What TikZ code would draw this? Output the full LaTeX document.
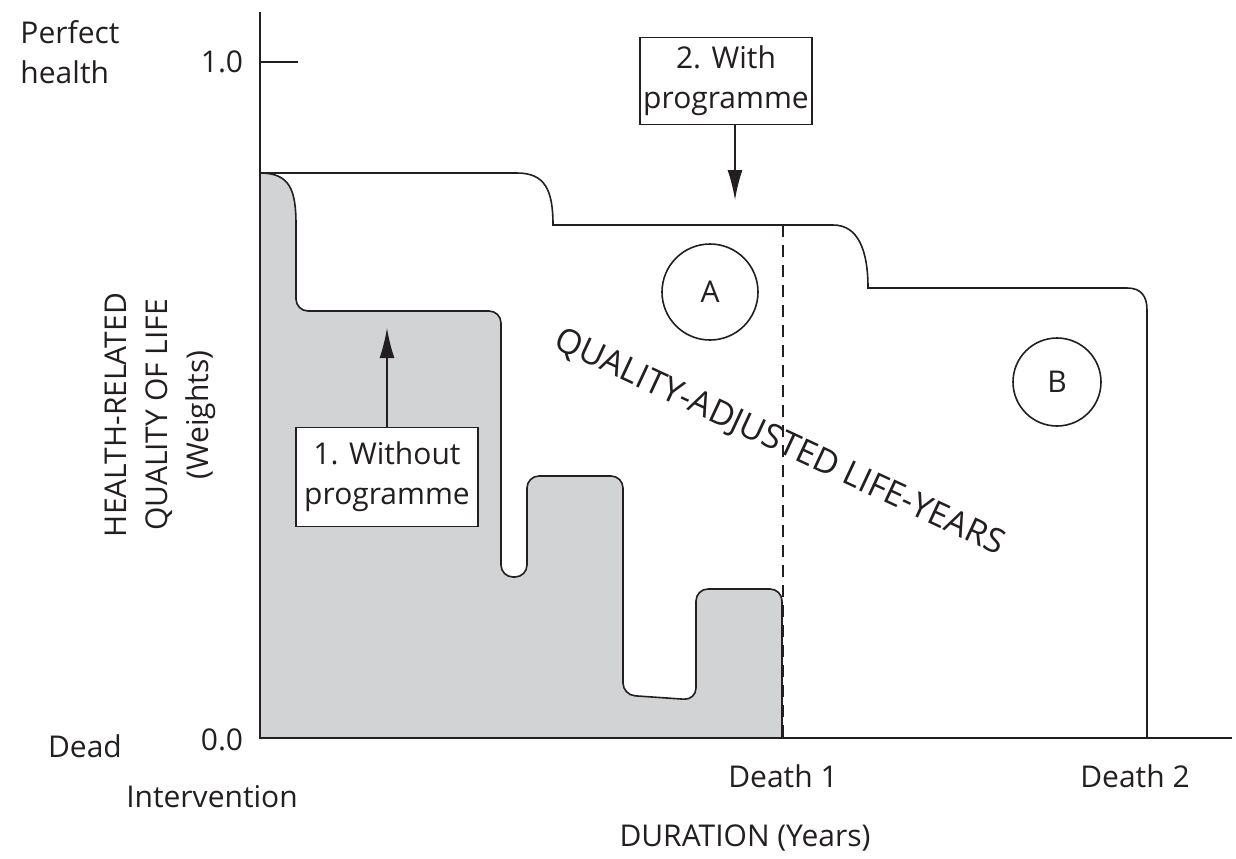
\documentclass[tikz,border=0pt]{standalone}
\usepackage{fontspec}
\setmainfont{Open Sans}
\usetikzlibrary{arrows.meta}
\definecolor{ink}{HTML}{231F20}
\definecolor{qalygray}{HTML}{D1D3D4}
\begin{document}
\begin{tikzpicture}[x=0.5pt,y=-0.5pt,
  every node/.style={text=ink,font=\fontsize{15}{20}\selectfont},
  axis/.style={draw=ink,line width=1pt},
  profile/.style={draw=ink,line width=0.8pt},
  labelbox/.style={draw=ink,line width=0.8pt,fill=white,align=center,inner sep=0pt},
  pointer/.style={draw=ink,line width=0.8pt,-{Latex[length=15pt,width=7.5pt]}},
  region/.style={draw=ink,circle,line width=0.8pt,inner sep=0pt}]
  \useasboundingbox (0,0) rectangle (1236,858);
  % without programme (shaded)
  \fill[qalygray] (260,738) -- (260,173) .. controls (290,173) and (296,190) .. (296,225)
    [rounded corners=6pt] -- (296,311) -- (501,311) -- (501,577) -- (527,577) -- (527,476)
    -- (623,476) -- (623,695) -- (696,700) -- (696,589) -- (782,589) [sharp corners] -- (782,738) -- cycle;
  \draw[profile] (260,173) .. controls (290,173) and (296,190) .. (296,225)
    [rounded corners=6pt] -- (296,311) -- (501,311) -- (501,577) -- (527,577) -- (527,476)
    -- (623,476) -- (623,695) -- (696,700) -- (696,589) -- (782,589) [sharp corners] -- (782,738);
  % with programme
  \draw[profile] (260,173) -- (517,173) .. controls (545,173) and (553,190) .. (553,225)
    -- (833,225) .. controls (858,225) and (868,250) .. (868,288)
    -- (1127,288) .. controls (1141,288) and (1147,296) .. (1147,310) -- (1147,738);
  % death 1
  \coordinate (dtop) at (783,225);
  \coordinate (dbot) at (783,738);
  \draw[ink,line width=0.8pt,dash pattern=on 6pt off 4pt] (dtop) -- (dbot);
  % axes
  \draw[axis] (260,12) -- (260,738) -- (1232,738);
  \draw[axis] (260,62) -- (298,62);
  % labels
  \node (perfect) [align=left] at (70,52) {Perfect\\health};
  \node (one) at (222,62) {1.0};
  \node (zero) at (222,740) {0.0};
  \node (dead) at (85,746) {Dead};
  \node (interv) at (212,797) {Intervention};
  \node (death1) at (783,776) {Death 1};
  \node (death2) at (1135,776) {Death 2};
  \node (duration) at (745,838) {DURATION (Years)};
  \node (hrqol) [rotate=90,align=center,font=\fontsize{15}{20.5}\selectfont] at (160,415)
    {HEALTH-RELATED\\QUALITY OF LIFE\\(Weights)};
  \node (qaly) [rotate=-25,font=\fontsize{17}{20}\selectfont] at (779,443) {QUALITY-ADJUSTED LIFE-YEARS};
  \node (areaA) [region,minimum size=48pt] at (710,292) {A};
  \node (areaB) [region,minimum size=44pt] at (1057,382) {B};
  % pointers
  \node (withbox) [labelbox,minimum width=86pt,minimum height=43.5pt] at (726,81) {2. With\\programme};
  \coordinate (withtip) at (735,200);
  \draw[pointer] (withbox.south -| withtip) -- (withtip);
  \node (withoutbox) [labelbox,minimum width=91pt,minimum height=49.5pt] at (387,477) {1. Without\\programme};
  \coordinate (withouttip) at (387,328);
  \draw[pointer] (withoutbox.north) -- (withouttip);
\end{tikzpicture}
\end{document}
